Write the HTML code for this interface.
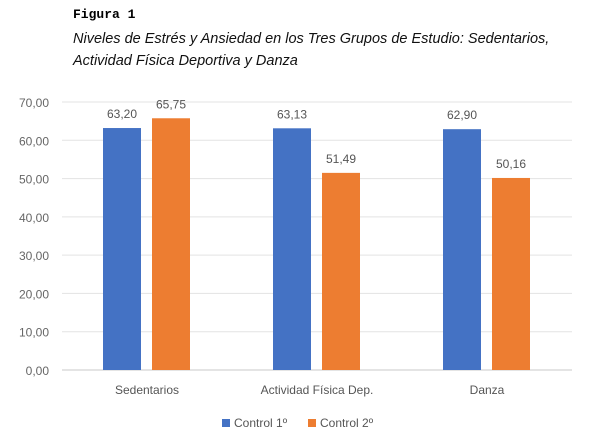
<!DOCTYPE html>
<html><head><meta charset="utf-8"><style>
body{margin:0;background:#fff;width:603px;height:441px;overflow:hidden;font-family:"Liberation Sans",sans-serif}
.fig{position:absolute;left:73px;top:7px;font-family:"Liberation Mono",monospace;font-weight:bold;font-size:13px}
.sub{position:absolute;left:73px;top:28px;font-style:italic;font-size:14.5px;line-height:22px;color:#111}
</style></head><body>
<div class="fig">Figura 1</div>
<div class="sub">Niveles de Estrés y Ansiedad en los Tres Grupos de Estudio: Sedentarios,<br>Actividad Física Deportiva y Danza</div>
<svg id="c" width="603" height="441" style="position:absolute;left:0;top:0"></svg>
<script>
const categories=["Sedentarios","Actividad Física Dep.","Danza"];
const control1=[63.20,63.13,62.90];
const control2=[65.75,51.49,50.16];
const yTicks=[0,10,20,30,40,50,60,70];
const seriesNames=["Control 1º","Control 2º"];
const colors=["#4472c4","#ed7d31"];
const svg=document.getElementById('c');const NS="http://www.w3.org/2000/svg";
const x0=62,x1=572,yb=370,yt=102,ymax=70;
const y=v=>yb-(v/ymax)*(yb-yt);
const bw=(x1-x0)/categories.length;
function mk(t,a,txt){const e=document.createElementNS(NS,t);for(const k in a)e.setAttribute(k,a[k]);if(txt!=null)e.textContent=txt;svg.appendChild(e);return e;}
yTicks.forEach(v=>{
 const l=mk('line',{x1:x0,x2:x1,y1:y(v),y2:y(v),stroke:v===0?'#c8c8c8':'#e3e3e3','stroke-width':1});
 
 
 const t=mk('text',{x:49,y:y(v)+5,'text-anchor':'end','font-size':12,fill:'#666'},v.toFixed(2).replace('.',','));
 
 
});
[control1,control2].forEach((s,si)=>{
 s.forEach((v,i)=>{
  const cx=x0+bw*(i+0.5);const bx=si===0?cx-44:cx+5;
  const r=mk('rect',{x:bx,y:y(v),width:38,height:yb-y(v),fill:colors[si]});
  
  
  const t=mk('text',{x:bx+19,y:y(v)-10,'text-anchor':'middle','font-size':12,fill:'#555'},v.toFixed(2).replace('.',','));
  
  
 });
});
categories.forEach((c,i)=>{
 const t=mk('text',{x:x0+bw*(i+0.5),y:394,'text-anchor':'middle','font-size':12,fill:'#555'},c);
 
 
});
const lx=[222,308];
seriesNames.forEach((n,i)=>{
 const r=mk('rect',{x:lx[i],y:419,width:8,height:8,fill:colors[i]});
 
 
 const t=mk('text',{x:lx[i]+12,y:427,'font-size':12,fill:'#555'},n);
 
 
});
</script>
</body></html>
